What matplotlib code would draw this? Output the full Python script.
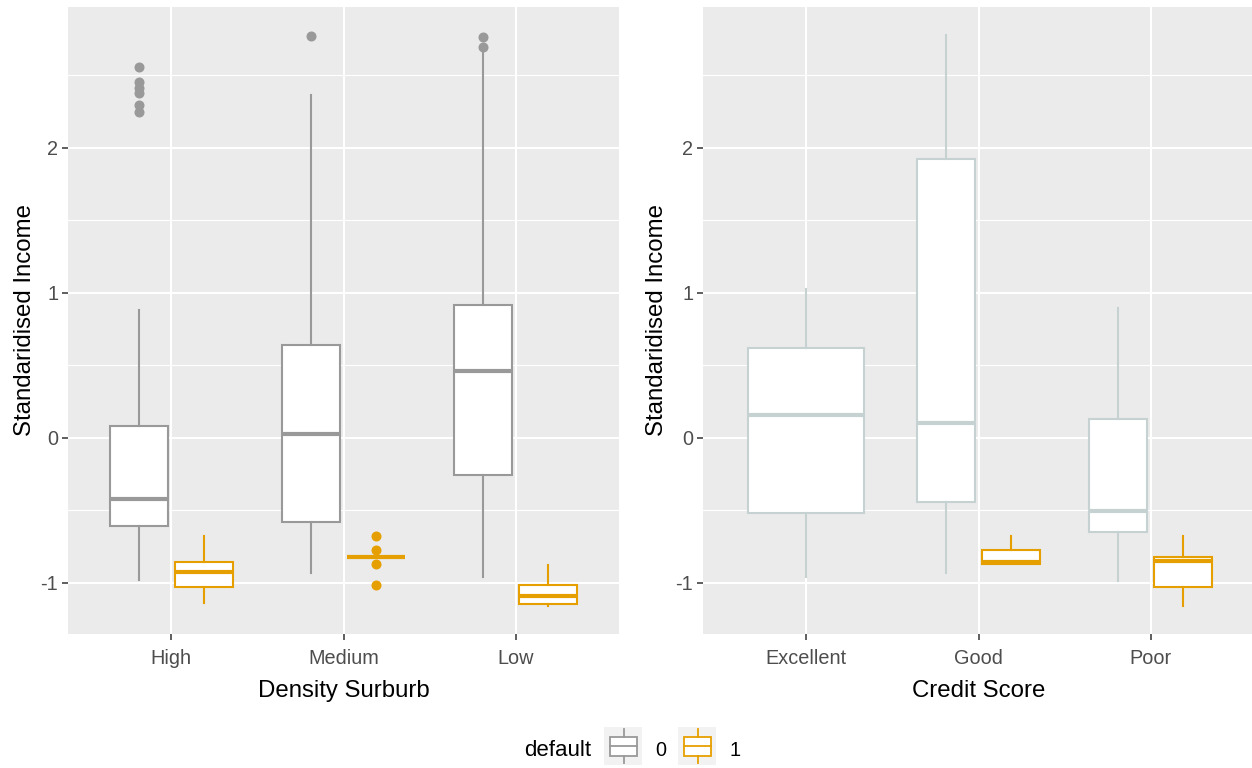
import matplotlib
matplotlib.use('Agg')
import matplotlib.pyplot as plt
from matplotlib.patches import Rectangle

plt.rcParams['font.family'] = ['Liberation Sans', 'DejaVu Sans']
plt.rcParams['axes.unicode_minus'] = False

# categories
density_levels = ['High', 'Medium', 'Low']
credit_levels = ['Excellent', 'Good', 'Poor']

# box summaries per category: [lower whisker, Q1, median, Q3, upper whisker]
density_d0 = [[-0.98, -0.607, -0.421, 0.081, 0.881],
              [-0.935, -0.579, 0.026, 0.639, 2.363],
              [-0.959, -0.255, 0.462, 0.914, 2.675]]
density_d0_out = [[2.556, 2.452, 2.411, 2.377, 2.294, 2.246], [2.77], [2.761, 2.697]]

density_d1 = [[-1.14, -1.027, -0.926, -0.86, -0.676],
              [-0.822, -0.822, -0.822, -0.822, -0.822],
              [-1.161, -1.149, -1.092, -1.018, -0.88]]
density_d1_out = [[], [-0.678, -0.772, -0.871, -1.016], []]

credit_d0 = [[-0.959, -0.517, 0.159, 0.621, 1.023],
             [-0.935, -0.446, 0.099, 1.924, 2.775],
             [-0.986, -0.653, -0.503, 0.129, 0.892]]
credit_d0_out = [[], [], []]

credit_d1 = [None,
             [-0.871, -0.871, -0.86, -0.772, -0.676],
             [-1.163, -1.027, -0.853, -0.823, -0.676]]
credit_d1_out = [[], [], []]

W, H = 1252, 768
fig = plt.figure(figsize=(W / 100, H / 100), dpi=100)


def px_axes(x0, y0, x1, y1):
    return fig.add_axes([x0 / W, 1 - y1 / H, (x1 - x0) / W, (y1 - y0) / H])


def draw_boxes(ax, summaries, outliers, other, side, color):
    stats, positions, widths = [], [], []
    for i, (s, o) in enumerate(zip(summaries, outliers)):
        if s is None:
            continue
        stats.append(dict(whislo=s[0], q1=s[1], med=s[2], q3=s[3], whishi=s[4], fliers=o))
        if other[i] is None:
            positions.append(i)
            widths.append(0.675)
        else:
            positions.append(i + side * 0.1875)
            widths.append(0.3375)
    ax.bxp(stats, positions=positions, widths=widths, patch_artist=True,
           showcaps=False, manage_ticks=False,
           boxprops=dict(facecolor='white', edgecolor=color, linewidth=1.5),
           whiskerprops=dict(color=color, linewidth=1.5),
           medianprops=dict(color=color, linewidth=3, solid_capstyle='butt'),
           flierprops=dict(marker='o', markerfacecolor=color, markeredgecolor=color,
                           markersize=6.2, linestyle='none'))


def style_axes(ax, levels, xlabel, xmax):
    ax.set_facecolor('#EBEBEB')
    for sp in ax.spines.values():
        sp.set_visible(False)
    ax.set_axisbelow(True)
    ax.set_xlim(-0.6, xmax)
    ax.set_ylim(-1.354, 2.97)
    ax.set_xticks(range(len(levels)))
    ax.set_xticklabels(levels)
    ax.set_yticks([-1, 0, 1, 2])
    ax.set_yticklabels(['-1', '0', '1', '2'])
    ax.set_yticks([-0.5, 0.5, 1.5, 2.5], minor=True)
    ax.grid(which='major', color='white', linewidth=1.5)
    ax.grid(which='minor', axis='y', color='white', linewidth=0.8)
    ax.tick_params(which='major', colors='#333333', labelcolor='#4D4D4D',
                   length=4, width=1.1, labelsize=14.3)
    ax.tick_params(axis='x', pad=7)
    ax.tick_params(axis='y', pad=3)
    ax.tick_params(which='minor', length=0)
    ax.set_xlabel(xlabel, fontsize=17.3, color='black')
    ax.set_ylabel('Standaridised Income', fontsize=17.3, color='black')


ax1 = px_axes(68, 7, 619, 634)
ax2 = px_axes(703, 7, 1252, 634)

scale = 551 / 3.2
style_axes(ax1, density_levels, 'Density Surburb', 2.6)
style_axes(ax2, credit_levels, 'Credit Score', -0.6 + 549 / scale)
ax1.xaxis.set_label_coords(0.5, -0.074)
ax2.xaxis.set_label_coords((3.2 / 2) / (549 / scale), -0.074)
ax1.yaxis.set_label_coords(-0.058, 0.5)
ax2.yaxis.set_label_coords(-0.064, 0.5)

draw_boxes(ax1, density_d0, density_d0_out, density_d1, -1, '#999999')
draw_boxes(ax1, density_d1, density_d1_out, density_d0, 1, '#E69F00')
draw_boxes(ax2, credit_d0, credit_d0_out, credit_d1, -1, '#C6D2D2')
draw_boxes(ax2, credit_d1, credit_d1_out, credit_d0, 1, '#E69F00')

# legend at the bottom
fig.text(558 / W, 1 - 751 / H, 'default', fontsize=16, ha='center', va='center')
for (x0, label, color) in [(604, '0', '#999999'), (678, '1', '#E69F00')]:
    kax = px_axes(x0, 727, x0 + 38, 765)
    kax.set_facecolor('#F2F2F2')
    kax.set_xlim(0, 1)
    kax.set_ylim(0, 1)
    kax.set_xticks([])
    kax.set_yticks([])
    for sp in kax.spines.values():
        sp.set_visible(False)
    kax.add_patch(Rectangle((0.16, 0.25), 0.72, 0.5, facecolor='white',
                            edgecolor=color, linewidth=1.3))
    kax.plot([0.16, 0.88], [0.5, 0.5], color=color, lw=1.3)
    kax.plot([0.52, 0.52], [0.05, 0.25], color=color, lw=1.3)
    kax.plot([0.52, 0.52], [0.75, 0.95], color=color, lw=1.3)
    fig.text((x0 + 57) / W, 1 - 750 / H, label, fontsize=14.3, ha='center', va='center')

fig.savefig('out.png', dpi=100)
